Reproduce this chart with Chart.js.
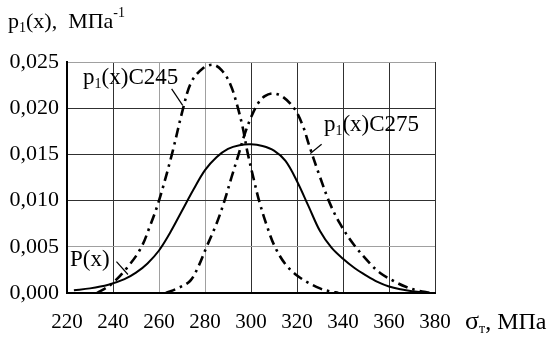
<!DOCTYPE html>
<html>
<head>
<meta charset="utf-8">
<script src="https://cdn.jsdelivr.net/npm/chart.js@4"></script>
<style>
  html, body { margin: 0; padding: 0; background: #fff; }
  #wrap { width: 550px; height: 337px; }
</style>
</head>
<body>
<div id="wrap"><canvas id="grafico" width="550" height="337"></canvas></div>
<script>
// Datos (sigma_T, MPa -> densidad)
const c245X = [233, 239, 246, 252, 256, 260, 265.6, 270.5, 274, 279, 283.5, 287.3, 291, 294, 296.5, 298.5, 301.5, 303.5, 307, 310.4, 315, 320, 325, 330, 334, 338];
const c245Y = [0, 0.0009, 0.0027, 0.0048, 0.0072, 0.0100, 0.0150, 0.0200, 0.0228, 0.0243, 0.0247, 0.0241, 0.0226, 0.0203, 0.0178, 0.0152, 0.0120, 0.0100, 0.0072, 0.0050, 0.0031, 0.0019, 0.0011, 0.0005, 0.0002, 0];

const c275X = [263, 268, 273.5, 277, 280.7, 285, 288.5, 291.5, 294.6, 297, 300, 303, 306, 309.7, 314, 319, 322.7, 325, 329.5, 334.3, 338.7, 344.5, 351.7, 356, 362, 367, 372, 378];
const c275Y = [0, 0.0005, 0.0013, 0.0028, 0.0050, 0.0075, 0.0100, 0.0125, 0.0150, 0.0170, 0.0190, 0.0205, 0.0213, 0.0216, 0.0212, 0.0199, 0.0180, 0.0162, 0.0129, 0.0097, 0.0075, 0.0053, 0.0032, 0.0022, 0.0013, 0.0007, 0.0003, 0];

const pX = [223, 230, 238, 245, 250, 255, 260, 265, 270, 275, 280, 285, 290, 295, 300, 305, 310, 315, 320, 325, 330, 335, 340, 345, 350, 355, 360, 365, 370, 378];
const pY = [0.0003, 0.0005, 0.0009, 0.0015, 0.0022, 0.0032, 0.0046, 0.0066, 0.0089, 0.0112, 0.0133, 0.0147, 0.0156, 0.0160, 0.0161, 0.0159, 0.0154, 0.0143, 0.0121, 0.0094, 0.0067, 0.0049, 0.0037, 0.0027, 0.0019, 0.0012, 0.0007, 0.0004, 0.0002, 0];

const xTicks = [220, 240, 260, 280, 300, 320, 340, 360, 380];
const yTicks = [0, 0.005, 0.010, 0.015, 0.020, 0.025];

const FUENTE = '"Liberation Serif", "Times New Roman", serif';
const aPuntos = (xs, ys) => xs.map((x, i) => ({ x, y: ys[i] }));

// lineas de rejilla grises / oscuras como en el original
const grisX = [260, 280];
const grisY = [5, 25];

// texto con subindices y superindices
function textoRico(ctx, x, y, partes, base = 23) {
  let cx = x;
  partes.forEach(([t, modo, tamExtra]) => {
    let dy = 0, tam = tamExtra || base;
    if (modo === 'sub') { tam = 14; dy = 4; }
    if (modo === 'sup') { tam = 14; dy = -11; }
    ctx.font = `${tam}px ${FUENTE}`;
    ctx.fillText(t, cx, y + dy);
    cx += ctx.measureText(t).width;
  });
  return cx;
}

const rotulos = {
  id: 'rotulos',
  afterDraw(chart) {
    const { ctx, scales: { x, y } } = chart;
    ctx.save();
    ctx.fillStyle = '#000';
    ctx.strokeStyle = '#000';
    ctx.textBaseline = 'alphabetic';
    ctx.textAlign = 'left';

    // titulo eje Y
    textoRico(ctx, 8, 28, [['p'], ['1', 'sub'], ['(x),  МПа'], ['-1', 'sup']], 22);

    // titulo eje X
    textoRico(ctx, 465, 329, [['σ', null, 26], ['т', 'sub'], [', МПа']], 24);

    // etiquetas de curvas con su guia
    ctx.lineWidth = 1.2;
    const guia = (x1, y1, x2, y2) => {
      ctx.beginPath();
      ctx.moveTo(x.getPixelForValue(x1), y.getPixelForValue(y1));
      ctx.lineTo(x.getPixelForValue(x2), y.getPixelForValue(y2));
      ctx.stroke();
    };

    textoRico(ctx, x.getPixelForValue(227), y.getPixelForValue(0.0226), [['p'], ['1', 'sub'], ['(x)C245']]);
    guia(265.5, 0.0221, 270.3, 0.0203);

    textoRico(ctx, x.getPixelForValue(331.7), y.getPixelForValue(0.0175), [['p'], ['1', 'sub'], ['(x)C275']]);
    guia(330.7, 0.0161, 325.8, 0.0151);

    textoRico(ctx, x.getPixelForValue(221.3), y.getPixelForValue(0.0029), [['P(x)']]);
    guia(241.5, 0.0034, 246.5, 0.0020);

    ctx.restore();
  }
};

const colorRejilla = (lista, factor) => c => {
  const v = Math.round(c.tick.value * factor);
  return lista.includes(v) ? '#a0a0a0' : '#303030';
};

const estiloPunteado = {
  borderColor: '#000',
  borderWidth: 2.6,
  borderDash: [10, 5, 2.5, 5],
  pointRadius: 0,
  fill: false,
  tension: 0.35
};

new Chart(document.getElementById('grafico'), {
  type: 'line',
  data: {
    datasets: [
      { label: 'p1(x)C245', data: aPuntos(c245X, c245Y), ...estiloPunteado },
      { label: 'p1(x)C275', data: aPuntos(c275X, c275Y), ...estiloPunteado },
      {
        label: 'P(x)',
        data: aPuntos(pX, pY),
        borderColor: '#000',
        borderWidth: 2,
        pointRadius: 0,
        fill: false,
        tension: 0.35
      }
    ]
  },
  options: {
    responsive: false,
    animation: false,
    devicePixelRatio: 1,
    layout: { padding: { left: 0, top: 62, right: 115, bottom: 0 } },
    scales: {
      x: {
        type: 'linear',
        min: 220,
        max: 380,
        afterFit: s => { s.height = 44; },
        afterBuildTicks: s => { s.ticks = xTicks.map(v => ({ value: v })); },
        grid: { color: colorRejilla(grisX, 1), lineWidth: 1, drawTicks: false },
        border: { color: '#000', width: 2 },
        ticks: { color: '#000', font: { family: FUENTE, size: 21 }, padding: 17, maxRotation: 0 }
      },
      y: {
        min: 0,
        max: 0.025,
        afterFit: s => { s.width = 67; },
        afterBuildTicks: s => { s.ticks = yTicks.map(v => ({ value: v })); },
        grid: { color: colorRejilla(grisY, 1000), lineWidth: 1, drawTicks: false },
        border: { color: '#000', width: 2 },
        ticks: {
          color: '#000',
          font: { family: FUENTE, size: 22 },
          padding: 8,
          callback: v => v.toFixed(3).replace('.', ',')
        }
      }
    },
    plugins: {
      legend: { display: false },
      tooltip: { enabled: false }
    }
  },
  plugins: [rotulos]
});
</script>
</body>
</html>
